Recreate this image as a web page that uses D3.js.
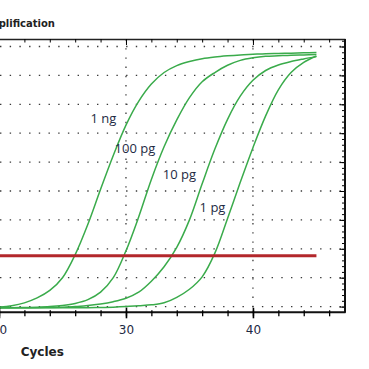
<!DOCTYPE html>
<html>
<head>
<meta charset="utf-8">
<script src="https://cdn.jsdelivr.net/npm/d3@7"></script>
<style>
  body { margin: 0; background: #fff; }
  svg { display: block; }
</style>
</head>
<body>
<svg id="ampSvg" width="369" height="369"></svg>
<script>
// cycle numbers shown on the picture (the part left of cycle 19 is cut off)
const cycles = [19, 20, 21, 22, 23, 24, 25, 26, 27, 28, 29, 30, 31, 32,
                33, 34, 35, 36, 37, 38, 39, 40, 41, 42, 43, 44, 45];

// fluorescence, one value per cycle
const ng1 = [-0.4, -0.2, 0.3, 1.3, 3.0, 5.6, 10.0, 18.0, 28.5, 40.6, 52.3, 62.8, 71.0, 77.0,
             81.0, 83.4, 84.8, 85.8, 86.4, 86.8, 87.1, 87.3, 87.5, 87.6, 87.7, 87.8, 87.9];
const pg100 = [-0.4, -0.4, -0.4, -0.3, -0.2, 0.0, 0.4, 1.1, 2.4, 5.0, 10.0, 19.3, 31.0, 44.0,
               55.3, 64.6, 72.3, 77.8, 81.0, 83.5, 85.2, 86.1, 86.6, 86.8, 87.0, 87.1, 87.2];
const pg10 = [-0.4, -0.4, -0.4, -0.4, -0.4, -0.3, -0.2, 0.0, 0.4, 0.9, 1.7, 2.9, 5.0, 8.8,
              13.8, 20.5, 30.0, 42.5, 54.5, 64.8, 72.8, 78.3, 81.7, 83.6, 84.8, 85.7, 86.5];
const pg1 = [-0.4, -0.4, -0.4, -0.4, -0.4, -0.4, -0.4, -0.4, -0.4, -0.3, -0.2, 0.0, 0.3, 0.6,
             1.3, 3.2, 6.0, 10.3, 18.5, 30.5, 43.0, 55.0, 66.0, 75.0, 81.0, 84.5, 86.7];

const seriesNames = ["1 ng", "100 pg", "10 pg", "1 pg"];
const seriesValues = [ng1, pg100, pg10, pg1];

const threshold = 17.6;
const thresholdCycles = [19, 45];

const xMajorTicks = [20, 30, 40];
const xMinorTicks = [20, 22, 24, 26, 28, 30, 32, 34, 36, 38, 40, 42, 44, 46];
const yMajorTicks = [0, 10, 20, 30, 40, 50, 60, 70, 80, 90];
const yMinorTicks = [0, 2, 4, 6, 8, 10, 12, 14, 16, 18, 20, 22, 24, 26, 28, 30, 32, 34, 36, 38, 40,
                     42, 44, 46, 48, 50, 52, 54, 56, 58, 60, 62, 64, 66, 68, 70, 72, 74, 76, 78,
                     80, 82, 84, 86, 88, 90, 92];

// where each curve label sits (cycle, fluorescence of baseline)
const labelCycles = [27.2, 29.1, 32.9, 35.8];
const labelValues = [63.6, 53.2, 44.0, 32.8];

const svg = d3.select("#ampSvg");

const plotRight = 345;
const plotTop = 39;
const plotBottom = 311.8;

let xScale = d3.scaleLinear().domain([20, 47.25]).range([-1, plotRight]);
let yScale = d3.scaleLinear().domain([0, 90]).range([306.6, 46.5]);

const green = "#3aab4b";
const darkText = "#1e2a44";

// dotted grid
svg.append("g")
  .selectAll("line")
  .data(yMajorTicks)
  .enter().append("line")
  .attr("x1", 0)
  .attr("x2", plotRight)
  .attr("y1", function (d) { return yScale(d); })
  .attr("y2", function (d) { return yScale(d); })
  .style("stroke", "#3a3a3a")
  .style("stroke-width", 1.3)
  .style("stroke-dasharray", "1.4,8.3");

svg.append("g")
  .selectAll("line")
  .data(xMajorTicks)
  .enter().append("line")
  .attr("x1", function (d) { return xScale(d); })
  .attr("x2", function (d) { return xScale(d); })
  .attr("y1", plotTop)
  .attr("y2", plotBottom)
  .style("stroke", "#3a3a3a")
  .style("stroke-width", 1.3)
  .style("stroke-dasharray", "1.4,7.8");

// amplification curves
let line = d3.line()
  .x(function (d) { return xScale(d[0]); })
  .y(function (d) { return yScale(d[1]); })
  .curve(d3.curveCatmullRom.alpha(0.5));

svg.append("g")
  .selectAll("path")
  .data(seriesValues)
  .enter().append("path")
  .attr("d", function (vals) { return line(cycles.map(function (c, i) { return [c, vals[i]]; })); })
  .style("fill", "none")
  .style("stroke", green)
  .style("stroke-width", 1.5);

// threshold
svg.append("line")
  .attr("x1", xScale(thresholdCycles[0]))
  .attr("x2", xScale(thresholdCycles[1]))
  .attr("y1", yScale(threshold))
  .attr("y2", yScale(threshold))
  .style("stroke", "#b3272b")
  .style("stroke-width", 3);

// top frame with inward ticks
let topMinor = svg.append("g")
  .attr("transform", "translate(0," + plotTop + ")")
  .call(d3.axisBottom(xScale).tickValues(xMinorTicks).tickSize(3.5).tickSizeOuter(0).tickFormat(""));
svg.append("g")
  .attr("transform", "translate(0," + plotTop + ")")
  .call(d3.axisBottom(xScale).tickValues(xMajorTicks).tickSize(6).tickSizeOuter(0).tickFormat(""))
  .select(".domain").remove();
topMinor.select(".domain").style("stroke", "#222").style("stroke-width", 1.4);

// bottom axis
let bottomMinor = svg.append("g")
  .attr("transform", "translate(0," + plotBottom + ")")
  .call(d3.axisBottom(xScale).tickValues(xMinorTicks).tickSize(4.5).tickSizeOuter(0).tickFormat(""));
bottomMinor.selectAll(".tick line").attr("y1", -1.5).style("stroke-width", 1.3);
bottomMinor.select(".domain").style("stroke", "#111").style("stroke-width", 2);

let bottomMajor = svg.append("g")
  .attr("transform", "translate(0," + plotBottom + ")")
  .call(d3.axisBottom(xScale).tickValues(xMajorTicks).tickSize(6.5).tickPadding(7).tickSizeOuter(0));
bottomMajor.select(".domain").remove();
bottomMajor.selectAll(".tick line").attr("y1", -4).style("stroke-width", 1.6);
bottomMajor.selectAll("text")
  .style("font-family", "'DejaVu Sans', sans-serif")
  .style("font-size", "12px")
  .attr("fill", darkText);

// right axis, ticks pointing into the plot
let rightMinor = svg.append("g")
  .attr("transform", "translate(" + plotRight + ",0)")
  .call(d3.axisLeft(yScale).tickValues(yMinorTicks).tickSize(3).tickSizeOuter(0).tickFormat(""));
rightMinor.select(".domain").remove();
svg.append("g")
  .attr("transform", "translate(" + plotRight + ",0)")
  .call(d3.axisLeft(yScale).tickValues(yMajorTicks).tickSize(5.5).tickSizeOuter(0).tickFormat(""))
  .select(".domain").remove();
svg.append("line")
  .attr("x1", plotRight)
  .attr("x2", plotRight)
  .attr("y1", plotTop)
  .attr("y2", plotBottom + 1)
  .style("stroke", "#111")
  .style("stroke-width", 2);

// curve labels
svg.append("g")
  .selectAll("text")
  .data(seriesNames)
  .enter().append("text")
  .attr("x", function (d, i) { return xScale(labelCycles[i]); })
  .attr("y", function (d, i) { return yScale(labelValues[i]); })
  .text(function (d) { return d; })
  .style("font-family", "'Open Sans', sans-serif")
  .style("font-size", "13px")
  .attr("fill", darkText);

// titles
svg.append("text")
  .attr("x", 55)
  .attr("y", 27)
  .attr("text-anchor", "end")
  .text("Amplification")
  .style("font-family", "'DejaVu Sans', sans-serif")
  .style("font-weight", "bold")
  .style("font-size", "10px")
  .attr("fill", "#222");

svg.append("text")
  .attr("x", 20.7)
  .attr("y", 355.5)
  .text("Cycles")
  .style("font-family", "'DejaVu Sans', sans-serif")
  .style("font-weight", "bold")
  .style("font-size", "12px")
  .attr("fill", "#222");
</script>
</body>
</html>
